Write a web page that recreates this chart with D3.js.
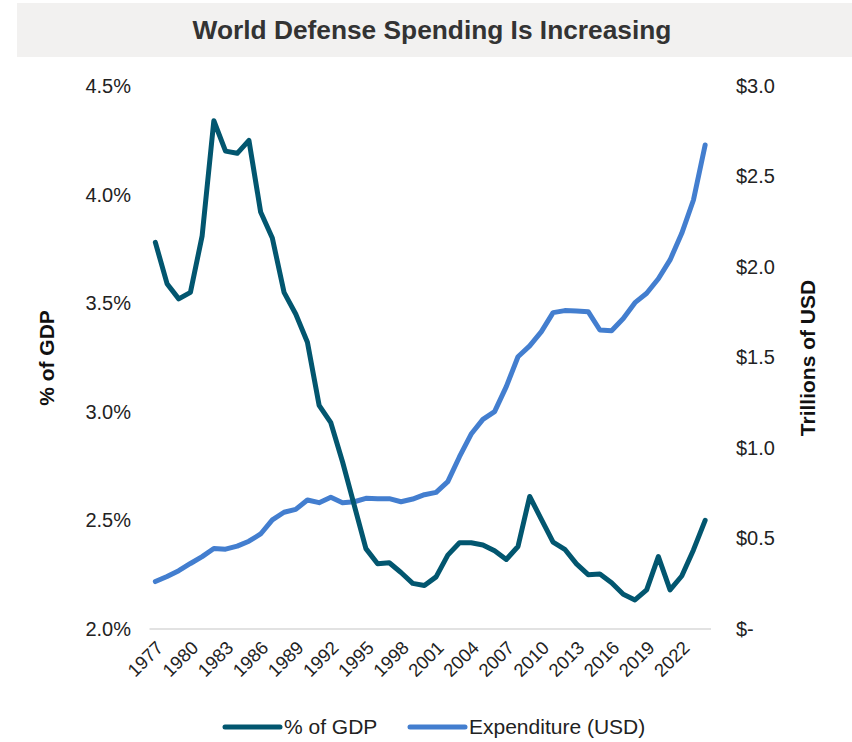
<!DOCTYPE html>
<html>
<head>
<meta charset="utf-8">
<script src="https://cdn.jsdelivr.net/npm/d3@7"></script>
<style>
  html, body { margin: 0; padding: 0; background: #fff; }
  svg { display: block; font-family: "Liberation Sans", Arial, sans-serif; }
</style>
</head>
<body>
<svg id="chart" width="852" height="742"></svg>
<script>
// World defense spending, 1977–2024
const years = d3.range(1977, 2025);
const gdpShare = [
  3.78, 3.59, 3.52, 3.55, 3.81, 4.34, 4.20, 4.19, 4.25, 3.92,
  3.80, 3.55, 3.45, 3.32, 3.03, 2.95, 2.77, 2.57, 2.37, 2.30,
  2.305, 2.26, 2.21, 2.20, 2.24, 2.34, 2.397, 2.397, 2.387, 2.36,
  2.32, 2.38, 2.61, 2.505, 2.40, 2.367, 2.30, 2.25, 2.253, 2.213,
  2.16, 2.134, 2.18, 2.333, 2.18, 2.244, 2.364, 2.50
];
const expenditure = [
  0.262, 0.290, 0.322, 0.362, 0.400, 0.445, 0.441, 0.458, 0.485, 0.525,
  0.603, 0.645, 0.661, 0.713, 0.698, 0.728, 0.698, 0.703, 0.722, 0.720,
  0.720, 0.703, 0.718, 0.742, 0.755, 0.814, 0.952, 1.077, 1.158, 1.201,
  1.339, 1.504, 1.564, 1.643, 1.748, 1.759, 1.757, 1.753, 1.652, 1.648,
  1.716, 1.803, 1.855, 1.935, 2.039, 2.186, 2.370, 2.674
];
const leftTicks = [2.0, 2.5, 3.0, 3.5, 4.0, 4.5];
const rightTicks = [0, 0.5, 1.0, 1.5, 2.0, 2.5, 3.0];
const yearTicks = d3.range(1977, 2023, 3);

const seriesNames = ["% of GDP", "Expenditure (USD)"];
const colors = ["#02566f", "#437ecf"];
const fontFamily = "Liberation Sans, Arial, sans-serif";

const svg = d3.select("#chart");

// Title banner
svg.append("rect").attr("x", 17).attr("y", 3).attr("width", 835).attr("height", 54).attr("fill", "#f2f1f0");
svg.append("text").attr("x", 432).attr("y", 39).attr("text-anchor", "middle")
  .attr("font-size", 26.3).attr("font-weight", "bold").attr("fill", "#333")
  .text("World Defense Spending Is Increasing");

const x = d3.scaleBand().domain(years).range([149.5, 711]);
const xc = d => x(d) + x.bandwidth() / 2;
const yL = d3.scaleLinear().domain([2.0, 4.5]).range([629, 86]);
const yR = d3.scaleLinear().domain([0, 3.0]).range([629, 86]);

// Baseline
svg.append("line").attr("x1", 149.5).attr("x2", 711).attr("y1", 629).attr("y2", 629)
  .attr("stroke", "#d9d9d9").attr("stroke-width", 1.5);

// Left axis
const axL = svg.append("g").attr("transform", "translate(131,0)")
  .call(d3.axisLeft(yL).tickValues(leftTicks).tickSize(0).tickPadding(0).tickFormat(d => d.toFixed(1) + "%"));
axL.select(".domain").remove();
axL.selectAll("text").attr("font-size", 20).attr("fill", "#222").attr("font-family", fontFamily);

// Right axis
const axR = svg.append("g").attr("transform", "translate(736,0)")
  .call(d3.axisRight(yR).tickValues(rightTicks).tickSize(0).tickPadding(0)
    .tickFormat(d => d === 0 ? "$-" : "$" + d.toFixed(1)));
axR.select(".domain").remove();
axR.selectAll("text").attr("font-size", 20).attr("fill", "#222").attr("font-family", fontFamily);

// Bottom axis (rotated year labels)
const axB = svg.append("g").attr("transform", "translate(0,629)")
  .call(d3.axisBottom(x).tickValues(yearTicks).tickSize(0).tickPadding(0));
axB.select(".domain").remove();
axB.selectAll("text")
  .attr("font-size", 18.5).attr("fill", "#222").attr("font-family", fontFamily)
  .attr("text-anchor", "end").attr("dy", null)
  .attr("transform", "translate(9,20) rotate(-45)");

// Axis titles
svg.append("text").attr("transform", "translate(54,358) rotate(-90)")
  .attr("text-anchor", "middle").attr("font-size", 21).attr("font-weight", "bold").attr("fill", "#111")
  .text("% of GDP");
svg.append("text").attr("transform", "translate(815,358) rotate(-90)")
  .attr("text-anchor", "middle").attr("font-size", 21).attr("font-weight", "bold").attr("fill", "#111")
  .text("Trillions of USD");

// Lines
const lineL = d3.line().x((d, i) => xc(years[i])).y(d => yL(d));
const lineR = d3.line().x((d, i) => xc(years[i])).y(d => yR(d));

svg.append("path").datum(expenditure).attr("d", lineR)
  .attr("fill", "none").attr("stroke", colors[1]).attr("stroke-width", 5)
  .attr("stroke-linejoin", "round").attr("stroke-linecap", "round");
svg.append("path").datum(gdpShare).attr("d", lineL)
  .attr("fill", "none").attr("stroke", colors[0]).attr("stroke-width", 5)
  .attr("stroke-linejoin", "round").attr("stroke-linecap", "round");

// Legend
const legendX = [225, 410];
seriesNames.forEach((name, i) => {
  const g = svg.append("g").attr("transform", `translate(${legendX[i]},727)`);
  g.append("line").attr("x1", 0).attr("x2", 55).attr("y1", 0).attr("y2", 0)
    .attr("stroke", colors[i]).attr("stroke-width", 5).attr("stroke-linecap", "round");
  g.append("text").attr("x", 59).attr("y", 7).attr("font-size", 21).attr("fill", "#222").text(name);
});
</script>
</body>
</html>
